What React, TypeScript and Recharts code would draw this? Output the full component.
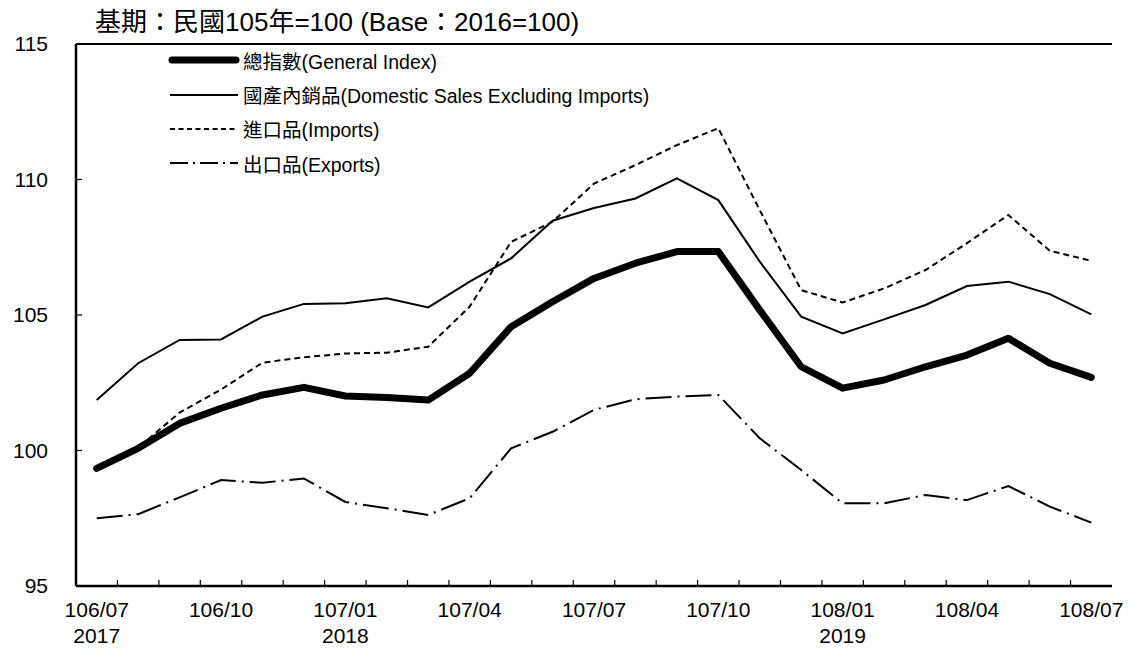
import React from "react"
import {
  LineChart,
  Line,
  XAxis,
  YAxis,
  ReferenceLine,
} from "recharts"

const months = [
  "106/07", "106/08", "106/09", "106/10", "106/11", "106/12",
  "107/01", "107/02", "107/03", "107/04", "107/05", "107/06",
  "107/07", "107/08", "107/09", "107/10", "107/11", "107/12",
  "108/01", "108/02", "108/03", "108/04", "108/05", "108/06", "108/07",
]
const yearLabels: Record<string, string> = { "106/07": "2017", "107/01": "2018", "108/01": "2019" }

const general = [99.34, 100.08, 101.0, 101.56, 102.05, 102.33, 102.01, 101.96, 101.86, 102.85, 104.57, 105.49, 106.35, 106.91, 107.34, 107.34, 105.18, 103.09, 102.3, 102.6, 103.09, 103.52, 104.14, 103.22, 102.7]
const domestic = [101.86, 103.22, 104.08, 104.1, 104.94, 105.41, 105.43, 105.62, 105.28, 106.23, 107.09, 108.48, 108.95, 109.3, 110.04, 109.24, 106.97, 104.94, 104.32, 104.84, 105.37, 106.07, 106.23, 105.77, 105.02]
const imports = [99.3, 100.1, 101.4, 102.25, 103.24, 103.44, 103.58, 103.61, 103.83, 105.31, 107.7, 108.44, 109.85, 110.53, 111.27, 111.89, 108.87, 105.92, 105.46, 105.98, 106.66, 107.65, 108.69, 107.37, 107.0]
const exportsIdx = [97.5, 97.65, 98.27, 98.91, 98.81, 98.97, 98.1, 97.87, 97.62, 98.24, 100.08, 100.69, 101.5, 101.89, 101.99, 102.05, 100.45, 99.28, 98.05, 98.05, 98.36, 98.17, 98.69, 97.93, 97.34]

const yTicks = [95, 100, 105, 110, 115]

const data = months.map((m, i) => ({
  m,
  general: general[i],
  domestic: domestic[i],
  imports: imports[i],
  exports: exportsIdx[i],
}))

const FONT = "'Liberation Sans', Arial, 'Noto Sans CJK TC', sans-serif"
const W = 1129
const H = 649
const M = { top: 44, right: 17, left: 0, bottom: 0 }
const Y_W = 76
const X_H = 63
const PLOT_W = W - M.left - M.right - Y_W
const STEP = PLOT_W / months.length

const XTick = (props: any) => {
  const { x, y, payload, index } = props
  const showLabel = index % 3 === 0
  const year = yearLabels[payload.value]
  return (
    <g>
      {index < months.length - 1 && (
        <line x1={x + STEP / 2} x2={x + STEP / 2} y1={y} y2={y - 6} stroke="#000" strokeWidth={1.2} />
      )}
      {showLabel && (
        <text x={x} y={y + 31} textAnchor="middle" fontSize={21} fontFamily={FONT} fill="#000">
          {payload.value}
        </text>
      )}
      {year && (
        <text x={x} y={y + 57} textAnchor="middle" fontSize={21} fontFamily={FONT} fill="#000">
          {year}
        </text>
      )}
    </g>
  )
}

const YTick = (props: any) => {
  const { x, y, payload } = props
  return (
    <g>
      <line x1={x} x2={x + 6} y1={y} y2={y} stroke="#000" strokeWidth={1.2} />
      <text x={x - 28} y={y + 7} textAnchor="end" fontSize={21} fontFamily={FONT} fill="#000">
        {payload.value}
      </text>
    </g>
  )
}

const legendItems = [
  { label: "總指數(General Index)", width: 7, dash: undefined },
  { label: "國產內銷品(Domestic Sales Excluding Imports)", width: 2, dash: undefined },
  { label: "進口品(Imports)", width: 2, dash: "5 3.5" },
  { label: "出口品(Exports)", width: 2, dash: "18 5 2 5" },
]

export default function App() {
  return (
    <div style={{ position: "absolute", left: 0, top: 0, width: W, height: H, background: "#fff" }}>
      <div
        style={{
          position: "absolute",
          left: 95,
          top: 8,
          fontSize: 26,
          fontFamily: FONT,
          color: "#000",
          whiteSpace: "nowrap",
          lineHeight: "28px",
        }}
      >
        基期：民國105年=100 (Base：2016=100)
      </div>
      <LineChart width={W} height={H} data={data} margin={M}>
        <XAxis
          dataKey="m"
          interval={0}
          height={X_H}
          padding={{ left: STEP / 2, right: STEP / 2 }}
          axisLine={{ stroke: "#000", strokeWidth: 2.5 }}
          tickLine={false}
          tickSize={0}
          tickMargin={0}
          tick={<XTick />}
        />
        <YAxis
          domain={[95, 115]}
          ticks={yTicks}
          width={Y_W}
          axisLine={{ stroke: "#000", strokeWidth: 2.5 }}
          tickLine={false}
          tickSize={0}
          tickMargin={0}
          tick={<YTick />}
        />
        <YAxis
          yAxisId="right"
          orientation="right"
          domain={[95, 115]}
          width={0}
          tick={false}
          tickLine={false}
          axisLine={{ stroke: "#000", strokeWidth: 2 }}
        />
        <ReferenceLine y={115} stroke="#000" strokeWidth={2} />
        <Line dataKey="exports" stroke="#000" strokeWidth={2} strokeDasharray="26 6 2 6" dot={false} isAnimationActive={false} />
        <Line dataKey="imports" stroke="#000" strokeWidth={2} strokeDasharray="6 4" dot={false} isAnimationActive={false} />
        <Line dataKey="domestic" stroke="#000" strokeWidth={2} dot={false} isAnimationActive={false} />
        <Line
          dataKey="general"
          stroke="#000"
          strokeWidth={7}
          strokeLinejoin="round"
          strokeLinecap="round"
          dot={false}
          isAnimationActive={false}
        />
      </LineChart>
      <div style={{ position: "absolute", left: 168, top: 43, fontFamily: FONT, fontSize: 19.5, color: "#000" }}>
        {legendItems.map((it) => (
          <div key={it.label} style={{ display: "flex", alignItems: "center", height: 34.4, whiteSpace: "nowrap" }}>
            <svg width={72} height={12} style={{ marginRight: 3 }}>
              <line
                x1={it.width > 3 ? 4 : 2}
                x2={it.width > 3 ? 68 : 70}
                y1={6}
                y2={6}
                stroke="#000"
                strokeWidth={it.width}
                strokeLinecap={it.width > 3 ? "round" : "butt"}
                strokeDasharray={it.dash}
              />
            </svg>
            <span>{it.label}</span>
          </div>
        ))}
      </div>
    </div>
  )
}
